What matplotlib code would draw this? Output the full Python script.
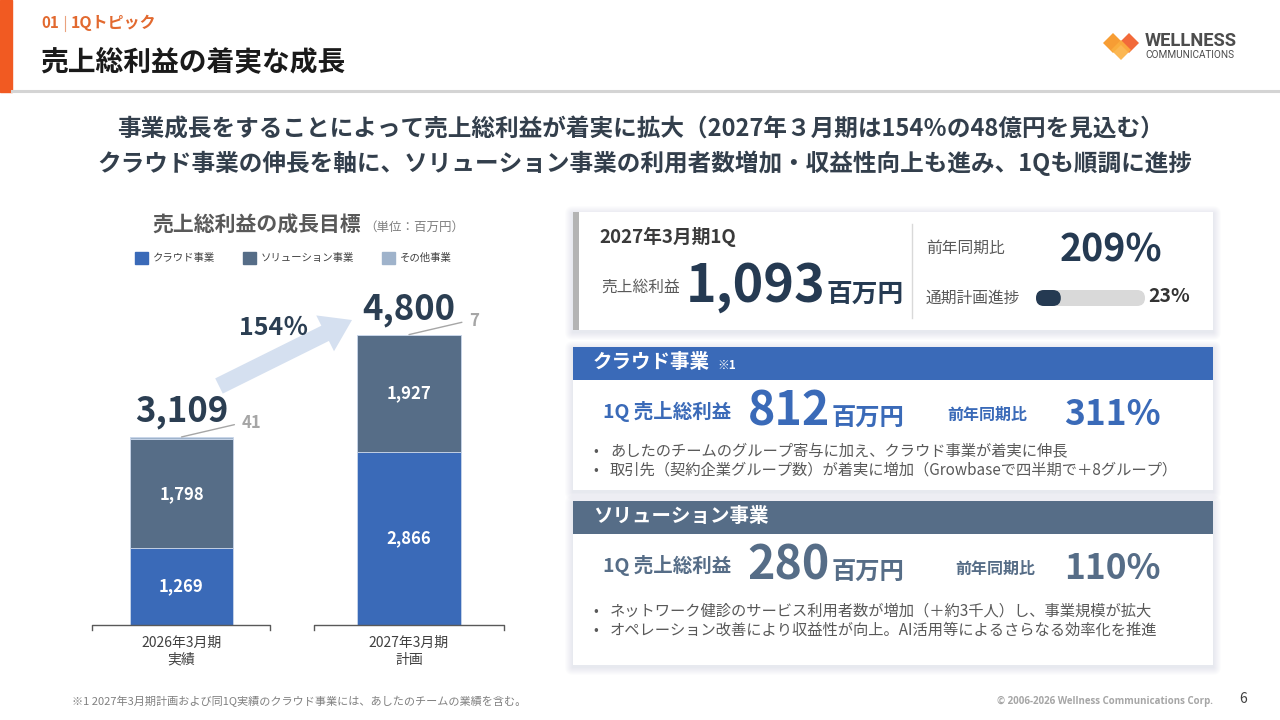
import matplotlib
matplotlib.use('Agg')
import matplotlib.pyplot as plt
from matplotlib.patches import Rectangle, FancyBboxPatch, FancyArrow, Polygon

plt.rcParams['font.family'] = ['Noto Sans CJK JP', 'DejaVu Sans']

# ---------------------------------------------------------------- data
periods = ['2026年3月期\n実績', '2027年3月期\n計画']
cloud = [1269, 2866]
solution = [1798, 1927]
other = [41, 7]
totals = [3109, 4800]
series_names = ['クラウド事業', 'ソリューション事業', 'その他事業']
series_colors = ['#3a6ab8', '#566d87', '#9fb3cb']

q1_label = '2027年3月期1Q'
q1_total = 1093
q1_yoy = 209
seg_titles = ['クラウド事業', 'ソリューション事業']
seg_q1 = [812, 280]
seg_yoy = [311, 110]
seg_bullets = [
    ['あしたのチームのグループ寄与に加え、クラウド事業が着実に伸長',
     '取引先（契約企業グループ数）が着実に増加（Growbaseで四半期で＋8グループ）'],
    ['ネットワーク健診のサービス利用者数が増加（＋約3千人）し、事業規模が拡大',
     'オペレーション改善により収益性が向上。AI活用等によるさらなる効率化を推進'],
]
headline = ['事業成長をすることによって売上総利益が着実に拡大（2027年３月期は154％の48億円を見込む）',
            'クラウド事業の伸長を軸に、ソリューション事業の利用者数増加・収益性向上も進み、1Qも順調に進捗']

navy = '#253a52'
slate = '#566d87'
blue = '#3a6ab8'

fig = plt.figure(figsize=(12.8, 7.2), dpi=100)
ax0 = fig.add_axes([0, 0, 1, 1])
ax0.set_xlim(0, 1280)
ax0.set_ylim(720, 0)
ax0.axis('off')


def t(x, y, s, size, color='#333333', weight='normal', ha='left', va='center', **kw):
    return ax0.text(x, y, s, fontsize=size, color=color, fontweight=weight,
                    ha=ha, va=va, **kw)


# ---------------------------------------------------------------- header
ax0.add_patch(Rectangle((0, 0), 12, 92, color='#f15a22'))
ax0.plot([12, 1280], [91, 91], color='#d4d4d4', lw=2.2)
t(41, 23, '01', 11, '#e2692f', 'bold')
ax0.plot([65, 65], [16, 31], color='#eaa27e', lw=0.8)
t(71, 23, '1Qトピック', 11.5, '#e2692f', 'bold')
t(40, 62, '売上総利益の着実な成長', 20, '#1a1a1a', 'bold')

# logo
for cx, cy, c in [(1113, 43, '#f7931e'), (1129, 43, '#f15a24'), (1121, 50, '#fbb040')]:
    ax0.add_patch(Polygon([(cx - 10, cy), (cx, cy - 10), (cx + 10, cy), (cx, cy + 10)],
                          closed=True, color=c, alpha=0.9, lw=0))
ax0.text(1145, 41, 'WELLNESS', fontsize=13.2, family='Roboto', fontweight='bold',
         color='#4d4d4d', va='center')
ax0.text(1145, 55, 'COMMUNICATIONS', fontsize=7.2, family='Roboto',
         color='#4d4d4d', va='center')

# headline
t(640, 130, headline[0], 17, '#333f4c', 'bold', ha='center')
t(645, 163, headline[1], 17, '#333f4c', 'bold', ha='center')

# ---------------------------------------------------------------- chart title / legend
t(152, 225, '売上総利益の成長目標', 15, '#595959', 'bold')
t(364, 227, '（単位：百万円）', 9, '#7f7f7f')
for sx, name, c in zip([135, 243, 382], series_names, series_colors):
    ax0.add_patch(Rectangle((sx, 252), 13, 12, color=c))
    t(sx + 18, 258, name, 7.5, '#404040')

# ---------------------------------------------------------------- stacked bars
px_per_unit = 0.0605
axb = fig.add_axes([93 / 1280, (720 - 625) / 720, 412 / 1280, 325 / 720])
axb.set_facecolor('none')
axb.set_xlim(-0.389, 1.422)
axb.set_ylim(0, 325 / px_per_unit)
axb.axis('off')

x = [0, 1]
width = 0.457
bottom2 = [c + s for c, s in zip(cloud, solution)]
top = [b + o for b, o in zip(bottom2, other)]
axb.bar(x, cloud, width, color=series_colors[0], edgecolor='#c9d6ea', lw=0.6)
axb.bar(x, solution, width, bottom=cloud, color=series_colors[1], edgecolor='#c9d6ea', lw=0.6)
axb.bar(x, other, width, bottom=bottom2, color=series_colors[2], edgecolor='#c9d6ea', lw=0.6)

for i in x:
    axb.text(i, cloud[i] / 2, f'{cloud[i]:,}', ha='center', va='center',
             fontsize=12, fontweight='bold', color='white')
    axb.text(i, cloud[i] + solution[i] / 2, f'{solution[i]:,}', ha='center', va='center',
             fontsize=12, fontweight='bold', color='white')
    axb.annotate(f'{totals[i]:,}', xy=(i, top[i]), xytext=(0, 11), textcoords='offset points',
                 ha='center', va='baseline', fontsize=25, fontweight='bold', color='#2b3e52')
    axb.annotate(str(other[i]), xy=(i, top[i]), xytext=(43, 10), textcoords='offset points',
                 ha='left', va='center', fontsize=12, fontweight='bold', color='#a6a6a6',
                 arrowprops=dict(arrowstyle='-', color='#a6a6a6', lw=1,
                                 relpos=(0, 0.5), shrinkA=3, shrinkB=0))
    axb.annotate(periods[i], xy=(i, 0), xytext=(0, -7.5), textcoords='offset points',
                 ha='center', va='top', fontsize=10, color='#404040', linespacing=1.3,
                 annotation_clip=False)

# category axis segments
tick = 5 / px_per_unit
for x0, x1 in [(-0.393, 0.389), (0.582, 1.418)]:
    axb.plot([x0, x0, x1, x1], [-tick, 0, 0, -tick], color='#595959', lw=1, clip_on=False)

# growth arrow
ax0.add_patch(FancyArrow(219, 386, 133, -66, width=17, head_width=40, head_length=30,
                         length_includes_head=True, color='#d5e0f0', lw=0))
t(274, 328, f'{round(totals[1] / totals[0] * 100)}％', 18, '#2b3e52', 'bold', ha='center')


# ---------------------------------------------------------------- cards
def shadow(x0, y0, w, h):
    for k in range(8, 0, -1):
        ax0.add_patch(FancyBboxPatch((x0 - k, y0 - k + 2), w + 2 * k, h + 2 * k,
                                     boxstyle='round,pad=0,rounding_size=%d' % k,
                                     color='#8899b0', alpha=0.022, lw=0))
    ax0.add_patch(Rectangle((x0, y0), w, h, color='white', lw=0))


cx0, cw = 573, 640

# card 1: total
shadow(cx0, 212, cw, 118)
ax0.add_patch(Rectangle((cx0, 212), 6, 118, color='#b4b4b4', lw=0))
t(599, 237, q1_label, 13.5, '#3a3a3a', 'bold')
t(601, 287, '売上総利益', 11.3, '#595959')
t(825, 302, f'{q1_total:,}', 37.5, navy, 'bold', ha='right', va='baseline')
t(827, 302, '百万円', 18.5, navy, 'bold', va='baseline')
ax0.plot([912, 912], [224, 318], color='#d9d9d9', lw=1)
t(926, 248, '前年同期比', 11.3, '#595959')
t(1162, 262, f'{q1_yoy}%', 27, navy, 'bold', ha='right', va='baseline')
t(926, 298, '通期計画進捗', 11.3, '#595959')
progress = q1_total / totals[1]
track_x, track_w = 1036, 109
ax0.add_patch(FancyBboxPatch((track_x, 290), track_w, 16, boxstyle='round,pad=0,rounding_size=8',
                             color='#d9d9d9', lw=0))
ax0.add_patch(FancyBboxPatch((track_x, 290), max(track_w * progress, 16), 16,
                             boxstyle='round,pad=0,rounding_size=8', color=navy, lw=0))
t(1190, 297, f'{progress:.0%}', 14, '#333333', 'bold', ha='right')

# segment cards
seg_colors = [blue, slate]
seg_tops = [347, 501]
seg_heights = [143, 164]
for k in range(2):
    y0 = seg_tops[k]
    col = seg_colors[k]
    shadow(cx0, y0, cw, seg_heights[k])
    ax0.add_patch(Rectangle((cx0, y0), cw, 33, color=col, lw=0))
    t(593, y0 + 16, seg_titles[k], 14, 'white', 'bold')
    if k == 0:
        t(717, y0 + 18, '※1', 8.5, 'white', 'bold')
    t(603, y0 + 65, '1Q 売上総利益', 14, col, 'bold')
    t(830, y0 + 78, f'{seg_q1[k]}', 33.5, col, 'bold', ha='right', va='baseline')
    t(832, y0 + 79, '百万円', 17.5, col, 'bold', va='baseline')
    t(1035 if k else 1027, y0 + 68, '前年同期比', 11.5, col, 'bold', ha='right')
    t(1161, y0 + 78, f'{seg_yoy[k]}%', 25.5, col, 'bold', ha='right', va='baseline')
    by = y0 + 104 if k == 0 else y0 + 110
    for j, line in enumerate(seg_bullets[k]):
        t(593, by + j * 19, '•', 10, '#595959')
        t(610, by + j * 19, line, 11, '#595959')

# ---------------------------------------------------------------- footer
t(72, 701, '※1 2027年3月期計画および同1Q実績のクラウド事業には、あしたのチームの業績を含む。',
  8, '#808080')
ax0.text(1213, 701, '© 2006-2026 Wellness Communications Corp.', fontsize=7, family='Open Sans',
         fontweight='bold', color='#a6a6a6', ha='right', va='center')
t(1243, 699, '6', 10, '#404040', ha='center')

fig.savefig('out.png', dpi=100)
